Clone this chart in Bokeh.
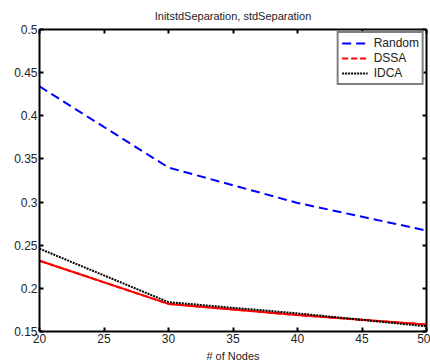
from bokeh.plotting import figure
from bokeh.models import LinearAxis, Range1d, Legend, LegendItem, FixedTicker, CustomJSTickFormatter
from bokeh.embed import file_html
from bokeh.resources import INLINE

nodes = [20, 30, 40, 50]
random_vals = [0.434, 0.340, 0.299, 0.267]
dssa_vals = [0.232, 0.182, 0.169, 0.158]
idca_vals = [0.246, 0.184, 0.171, 0.156]
x_ticks = [20, 25, 30, 35, 40, 45, 50]
y_ticks = [0.15, 0.2, 0.25, 0.3, 0.35, 0.4, 0.45, 0.5]

FONT = "Liberation Sans"

p = figure(width=430, height=364, output_backend="svg", toolbar_location=None,
           x_range=Range1d(20, 50), y_range=Range1d(0.15, 0.5),
           min_border_left=39, min_border_right=4, min_border_top=28, min_border_bottom=33,
           x_axis_label="# of Nodes")
p.title.text = "InitstdSeparation, stdSeparation"
p.title.align = "center"
p.title.text_font = FONT
p.title.text_font_size = "11px"
p.title.text_font_style = "normal"
p.title.text_color = "#222222"
p.title.offset = 0
p.title.standoff = 15

p.grid.visible = False
p.outline_line_color = None

fmt = CustomJSTickFormatter(code="var s = tick.toFixed(2); if (s.endsWith('0')) s = s.slice(0,-1); return s;")
blank = CustomJSTickFormatter(code="return '';")

for ax in p.xaxis:
    ax.ticker = FixedTicker(ticks=x_ticks)
    ax.axis_label_text_font = FONT
    ax.axis_label_text_font_size = "11px"
    ax.axis_label_text_font_style = "normal"
    ax.axis_label_text_color = "#222222"
    ax.axis_label_standoff = 4
for ax in p.yaxis:
    ax.ticker = FixedTicker(ticks=y_ticks)
    ax.formatter = fmt

for ax in list(p.xaxis) + list(p.yaxis):
    ax.major_tick_in = 4
    ax.major_tick_out = 0
    ax.minor_tick_in = 0
    ax.minor_tick_out = 0
    ax.axis_line_width = 2
    ax.axis_line_color = "black"
    ax.major_tick_line_width = 2
    ax.major_label_text_font = FONT
    ax.major_label_text_font_size = "12px"
    ax.major_label_text_color = "#222222"
    ax.major_label_standoff = 2

top = LinearAxis(ticker=FixedTicker(ticks=x_ticks), formatter=blank,
                 major_tick_in=4, major_tick_out=0, minor_tick_in=0, minor_tick_out=0,
                 axis_line_width=2, major_tick_line_width=2)
right = LinearAxis(ticker=FixedTicker(ticks=y_ticks), formatter=blank,
                   major_tick_in=4, major_tick_out=0, minor_tick_in=0, minor_tick_out=0,
                   axis_line_width=2, major_tick_line_width=2)
p.add_layout(top, "above")
p.add_layout(right, "right")

lr = p.line(nodes, random_vals, line_color="blue", line_width=2, line_dash="9 5")
p.line(nodes, dssa_vals, line_color="red", line_width=2)
ld = p.line(nodes, dssa_vals, line_color="red", line_width=2, line_dash="6 3")
li = p.line(nodes, idca_vals, line_color="black", line_width=2, line_dash="2 1")

legend = Legend(items=[LegendItem(label="Random", renderers=[lr]),
                       LegendItem(label="DSSA", renderers=[ld]),
                       LegendItem(label="IDCA", renderers=[li])],
                location="top_right", border_line_color="black", border_line_width=2,
                label_text_font=FONT, label_text_font_size="12px", label_text_color="#222222",
                glyph_width=26, glyph_height=10, label_height=10, spacing=1,
                padding=3, margin=2, label_standoff=6, background_fill_alpha=1)
p.add_layout(legend, "center")

open("out.html", "w").write(file_html(p, INLINE))
